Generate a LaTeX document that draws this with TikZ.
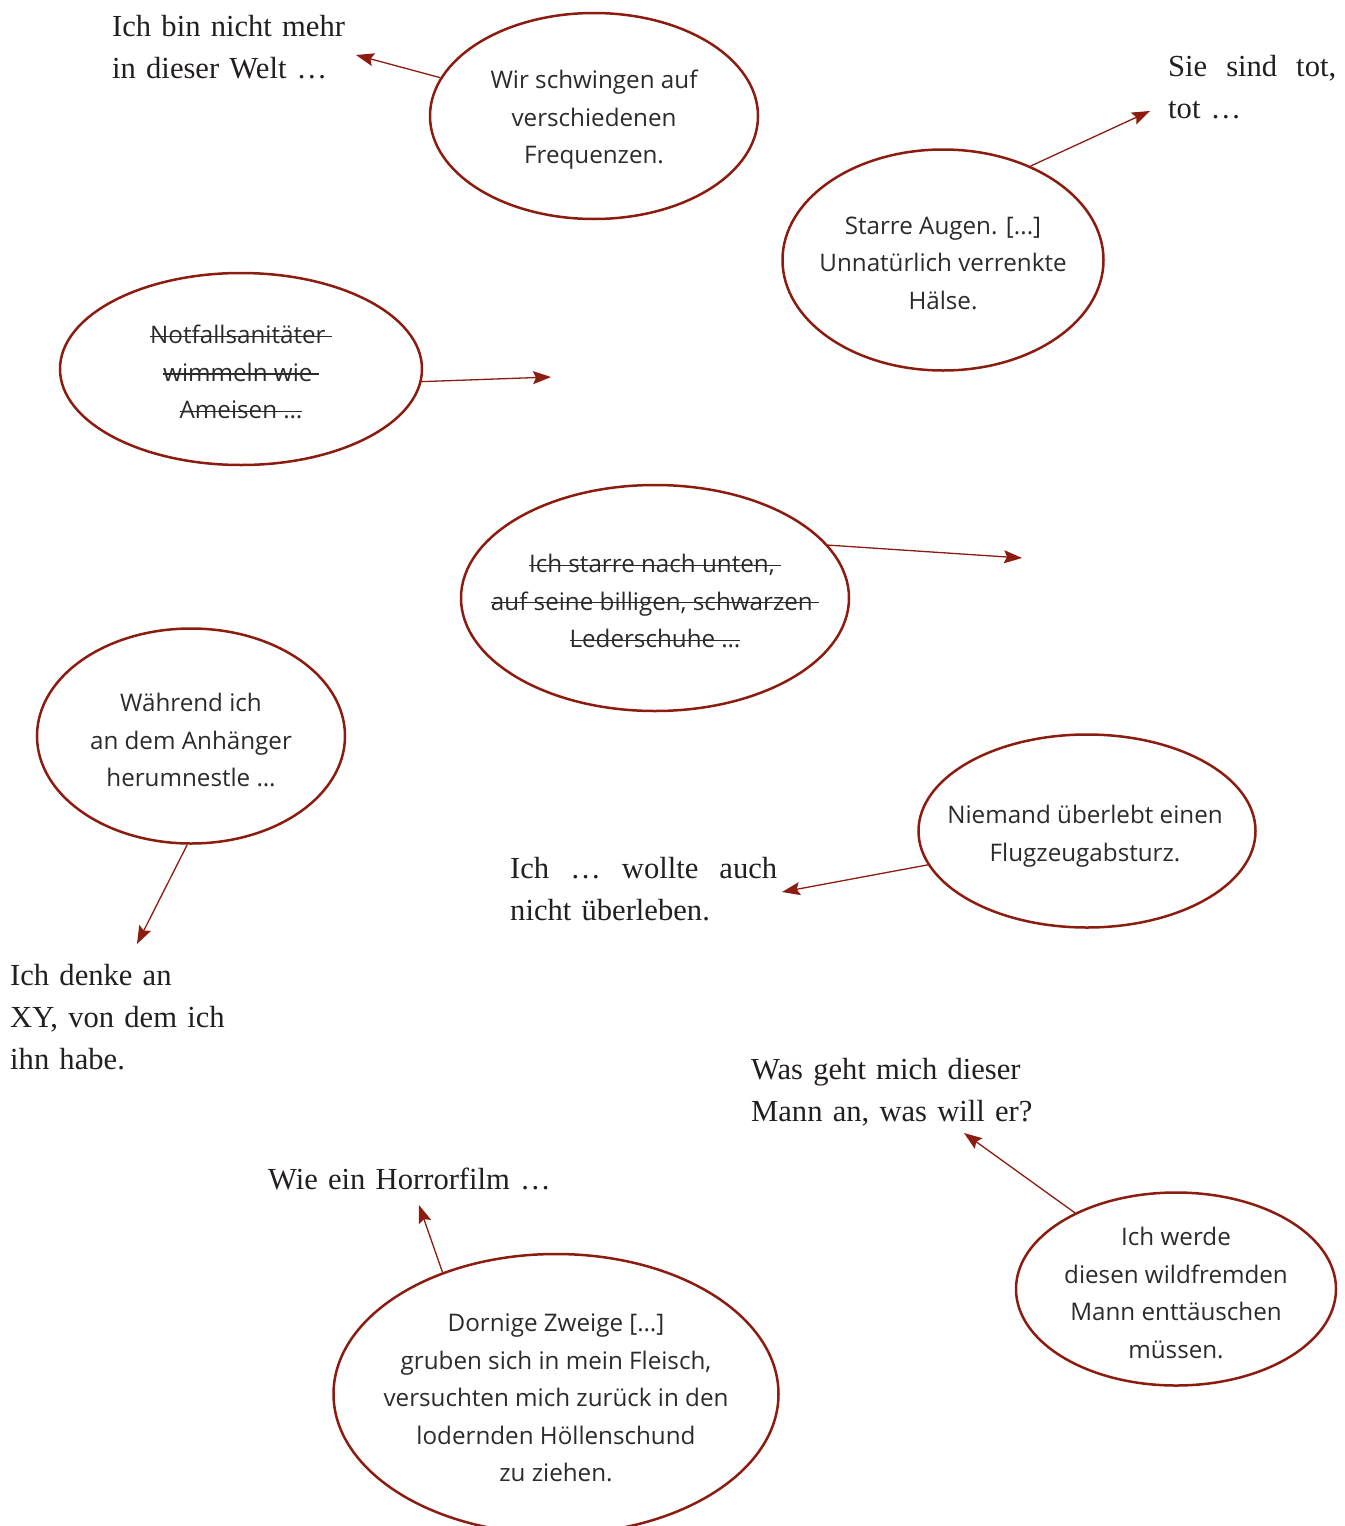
\documentclass[tikz,border=0pt]{standalone}
\usepackage{fontspec}
\setmainfont{Liberation Serif}
\newfontfamily\bubblefont{Open Sans}
\newsavebox\strkbox
\newcommand\strk[1]{\sbox\strkbox{#1}\rlap{\rule[0.27em]{\wd\strkbox}{1.2pt}}\usebox\strkbox}
\usetikzlibrary{shapes.geometric,arrows.meta}
\definecolor{bubred}{RGB}{140,28,16}
\definecolor{inkgray}{RGB}{35,31,32}
\definecolor{bubink}{RGB}{45,42,43}
\begin{document}
\begin{tikzpicture}[x=1pt,y=-1pt,
 bubble/.style={ellipse,draw=bubred,line width=2.5pt,inner sep=0pt},
 btext/.style={font=\bubblefont\fontsize{24.2}{37.5}\selectfont,text=bubink,align=center,inner sep=0pt},
 stext/.style={font=\fontsize{30.6}{42}\selectfont,text=inkgray,align=left,inner sep=0pt,anchor=base west,text width=330pt},
 link/.style={draw=bubred,line width=1.3pt,-{Stealth[length=18pt,width=13pt,inset=3pt]}}]
\useasboundingbox (0,0) rectangle (1344,1526);
\clip (0,0) rectangle (1344,1526);

% bubbles
\node[bubble,minimum width=328pt,minimum height=206pt] (e1) at (594,116) {};
\node[btext] (t1) at (594,120) {Wir schwingen auf\\verschiedenen\\Frequenzen.};
\node[bubble,minimum width=321pt,minimum height=221pt] (e2) at (943,260) {};
\node[btext] (t2) at (943,263) {Starre Augen. [...]\\Unnatürlich verrenkte\\Hälse.};
\node[bubble,minimum width=362pt,minimum height=192pt] (e3) at (241,369) {};
\node[btext] (t3) at (241,372) {\strk{Notfallsanitäter\ }\\\strk{wimmeln wie\ }\\\strk{Ameisen …}};
\node[bubble,minimum width=388pt,minimum height=226pt] (e4) at (655,598) {};
\node[btext] (t4) at (655,601) {\strk{Ich starre nach unten,\ }\\\strk{auf seine billigen, schwarzen\ }\\\strk{Lederschuhe …}};
\node[bubble,minimum width=308pt,minimum height=215pt] (e5) at (191,736) {};
\node[btext] (t5) at (191,740) {Während ich\\an dem Anhänger\\herumnestle …};
\node[bubble,minimum width=337pt,minimum height=193pt] (e6) at (1087,831) {};
\node[btext] (t6) at (1085,836) {Niemand überlebt einen\\Flugzeugabsturz.};
\node[bubble,minimum width=320pt,minimum height=193pt] (e7) at (1176,1289) {};
\node[btext] (t7) at (1176,1293) {Ich werde\\diesen wildfremden\\Mann enttäuschen\\müssen.};
\node[bubble,minimum width=445pt,minimum height=280pt] (e8) at (556,1394) {};
\node[btext] (t8) at (556,1398) {Dornige Zweige […]\\gruben sich in mein Fleisch,\\versuchten mich zurück in den\\lodernden Höllenschund\\zu ziehen.};

% serif texts
\node[stext] (s1) at (112,36) {Ich bin nicht mehr\\in dieser Welt …};
\node[stext] (s2) at (1168,76) {\hbox to 168pt{Sie\hfil sind\hfil tot,}\\tot …};
\node[stext] (s3) at (510,878) {\hbox to 267pt{Ich\hfil …\hfil wollte\hfil auch}\\nicht überleben.};
\node[stext] (s4) at (10,985) {Ich denke an\\XY, von dem ich\\ihn habe.};
\node[stext] (s5) at (751,1079) {Was geht mich dieser\\Mann an, was will er?};
\node[stext] (s6) at (268,1189) {Wie ein Horrorfilm …};

% arrow targets
\coordinate (a1) at (356,55);
\coordinate (a2) at (1150,111);
\coordinate (a3) at (551,377);
\coordinate (a4) at (1022,558);
\coordinate (a5) at (137,944);
\coordinate (a6) at (782,892);
\coordinate (a7) at (964,1133);
\coordinate (a8) at (419,1205);

\draw[link] (e1.166.5) -- (a1);
\draw[link] (e2.47.5) -- (a2);
\draw[link] (e3.-4) -- (a3);
\draw[link] (e4.17) -- (a4);
\draw[link] (e5.-92) -- (a5);
\draw[link] (e6.192.8) -- (a6);
\draw[link] (e7.143.4) -- (a7);
\draw[link] (e8.133) -- (a8);
\end{tikzpicture}
\end{document}
